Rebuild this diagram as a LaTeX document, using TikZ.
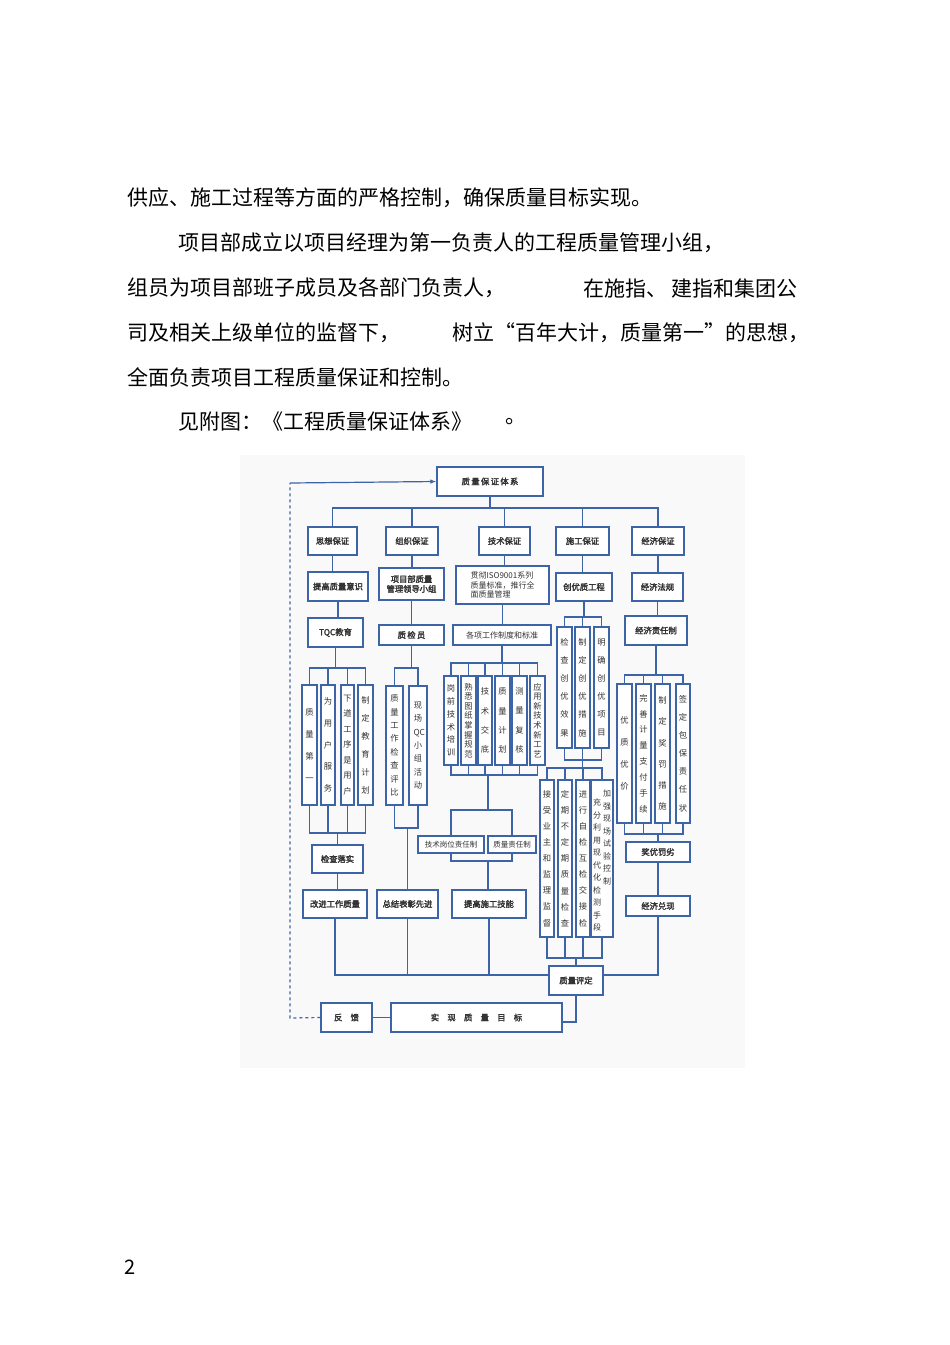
\documentclass[tikz,border=0pt]{standalone}
\usepackage{fontspec}
\usetikzlibrary{arrows.meta}
\newfontfamily\cjk{Noto Sans CJK SC}
\newfontfamily\cjkb[AutoFakeBold=2.5]{Noto Sans CJK SC}
\setmainfont{Noto Sans CJK SC}
\XeTeXlinebreaklocale "zh"
\XeTeXlinebreakskip=0pt plus 1pt
\ExplSyntaxOn
\NewExpandableDocumentCommand\mycount{m}{\tl_count:n{#1}}
\ExplSyntaxOff
\definecolor{bl}{HTML}{3E64A8}
\definecolor{tx}{HTML}{333333}
\tikzset{
 ln/.style={draw=bl,line width=1.2pt},
 hb/.style={draw=bl,line width=1.2pt,fill=white,inner sep=0pt,text=tx,align=center,font=\cjkb\bfseries\fontsize{8.3}{9.8}\selectfont},
 vbx/.style={draw=bl,line width=1.2pt,fill=white,inner sep=0pt,text=tx,text width=9pt,align=center},
 para/.style={anchor=west,inner sep=0pt,font=\cjk\fontsize{21}{21}\selectfont,text=black}
}
\newcommand\bx[6]{\node[hb,minimum width={#4-#2},minimum height={#5-#3}] (#1) at ({(#2+#4)/2},{(#3+#5)/2}) {#6};}
\newcommand\vb[6]{\pgfmathsetmacro\myls{min(22,(#5-#3-12)/\mycount{#6})}%
 \node[vbx,minimum width={#4-#2},minimum height={#5-#3},font=\cjkb\fontsize{8.3}{\myls}\selectfont] (#1) at ({(#2+#4)/2},{(#3+#5)/2}) {#6};}
\begin{document}
\begin{tikzpicture}[x=1pt,y=-1pt]
\useasboundingbox (0,0) rectangle (950,1345);
\fill[white] (0,0) rectangle (950,1345);
\fill[gray!5] (240,455) rectangle (745,1068);
% paragraph
\node[para] (l1) at (127,198) {供应、施工过程等方面的严格控制，确保质量目标实现。};
\node[para] (l2) at (178,243) {项目部成立以项目经理为第一负责人的工程质量管理小组，};
\node[para] (l3a) at (127,288) {组员为项目部班子成员及各部门负责人，};
\node[para] (l3b) at (583,288) {在施指、 建指和集团公};
\node[para] (l4a) at (127,333) {司及相关上级单位的监督下，};
\node[para] (l4b) at (452,333) {树立“百年大计，质量第一”的思想，};
\node[para] (l5) at (127,377) {全面负责项目工程质量保证和控制。};
\node[para] (l6a) at (178,422) {见附图：《工程质量保证体系》};
\node[para] (l6b) at (505,422) {。};
\node[para,font=\fontsize{20}{20}\selectfont] (pg) at (124,1267) {2};
% top
\bx{T}{437}{467}{543}{496}{质\,量\,保\,证\,体\,系}
\bx{a1}{308}{527}{357}{555}{思想保证}
\bx{a2}{386}{527}{438}{555}{组织保证}
\bx{a3}{479}{527}{530}{555}{技术保证}
\bx{a4}{556}{527}{609}{555}{施工保证}
\bx{a5}{632}{527}{684}{555}{经济保证}
\draw[ln] (T.south) -- (490,508);
\draw[ln] (a1.north) |- (490,508) -| (a5.north);
\foreach \n in {a2,a3,a4} \draw[ln] (\n.north) -- (\n.north|-0,508);
\bx{b1}{308}{572}{368}{601}{提高质量意识}
\bx{b2}{379}{568}{444}{600}{项目部质量\\管理领导小组}
\node[hb,minimum width=93,minimum height=38,align=left,font=\cjkb\fontsize{8}{9.5}\selectfont] (b3) at (502.5,585) {贯彻ISO9001系列\\质量标准，推行全\\面质量管理};
\bx{b4}{556}{573}{612}{601}{创优质工程}
\bx{b5}{632}{573}{683}{601}{经济法规}
\foreach \i in {1,...,5} \draw[ln] (a\i.south) -- (a\i.south|-b\i.north);
\bx{c1}{308}{618}{363}{647}{TQC教育}
\bx{c2}{379}{625}{444}{645}{质\,检\,员}
\node[hb,minimum width=98,minimum height=20,font=\cjkb\fontsize{8}{9.5}\selectfont] (c3) at (502,635) {各项工作制度和标准};
\bx{c5}{625}{616}{687}{645}{经济责任制}
\foreach \i in {1,2,3,5} \draw[ln] (b\i.south) -- (b\i.south|-c\i.north);
% column 1
\vb{e1}{302}{685}{317}{805}{质量第一}
\vb{e2}{321}{685}{335}{805}{为用户服务}
\vb{e3}{341}{685}{354}{805}{下道工序是用户}
\vb{e4}{358}{685}{373}{805}{制定教育计划}
\draw[ln] (c1.south) -- (c1.south|-0,668);
\draw[ln] (e1.north) |- (e4.north|-0,668) -- (e4.north);
\draw[ln] (e2.north) -- (e2.north|-0,668) (e3.north) -- (e3.north|-0,668);
\draw[ln] (e1.south) |- (e4.south|-0,833) -- (e4.south);
\draw[ln] (e2.south) -- (e2.south|-0,833) (e3.south) -- (e3.south|-0,833);
\bx{f1}{312}{845}{363}{873}{检查落实}
\bx{g1}{303}{890}{367}{918}{改进工作质量}
\draw[ln] (f1.north) -- (f1.north|-0,833);
\draw[ln] (f1.south) -- (f1.south|-g1.north);
% column 2
\vb{e5}{386}{686}{403}{805}{质量工作检查评比}
\vb{e6}{409}{686}{427}{805}{现场QC小组活动}
\draw[ln] (c2.south) -- (c2.south|-0,668);
\draw[ln] (e5.north) |- (e6.north|-0,668) -- (e6.north);
\draw[ln] (e5.south) |- (e6.south|-0,828) -- (e6.south);
\bx{g2}{377}{890}{438}{918}{总结表彰先进}
\draw[ln] (g2.north) -- (g2.north|-0,828);
% column 3
\vb{h1}{444}{676}{458}{765}{岗前技术培训}
\vb{h2}{461}{676}{476}{765}{熟悉图纸掌握规范}
\vb{h3}{478}{676}{492}{765}{技术交底}
\vb{h4}{495}{676}{510}{765}{质量计划}
\vb{h5}{512}{676}{527}{765}{测量复核}
\vb{h6}{530}{676}{545}{765}{应用新技术新工艺}
\draw[ln] (c3.south) -- (c3.south|-0,663);
\draw[ln] (h1.north) |- (h6.north|-0,663) -- (h6.north);
\draw[ln] (h1.south) |- (h6.south|-0,775) -- (h6.south);
\foreach \n in {h2,h3,h4,h5} {\draw[ln] (\n.north) -- (\n.north|-0,663); \draw[ln] (\n.south) -- (\n.south|-0,775);}
\node[hb,minimum width=66,minimum height=17,font=\cjkb\fontsize{7.5}{9}\selectfont] (k1) at (451,844.5) {技术岗位责任制};
\node[hb,minimum width=48,minimum height=17,font=\cjkb\fontsize{7.5}{9}\selectfont] (k2) at (512,844.5) {质量责任制};
\coordinate (j1) at (488,775);
\draw[ln] (j1) -- (488,810);
\draw[ln] (k1.north) |- (488,810) -| (k2.north);
\bx{g3}{452}{890}{526}{918}{提高施工技能}
\draw[ln] (k1.south) |- (488,861) -| (k2.south);
\draw[ln] (488,861) -- (g3.north-|488,0);
% column 4
\vb{d1}{557}{627}{572}{748}{检查创优效果}
\vb{d2}{575}{627}{590}{748}{制定创优措施}
\vb{d3}{594}{627}{609}{748}{明确创优项目}
\draw[ln] (b4.south) -- (b4.south|-0,617);
\draw[ln] (d1.north) |- (d3.north|-0,617) -- (d3.north);
\draw[ln] (d2.north) -- (d2.north|-0,617);
\draw[ln] (d1.south) |- (d3.south|-0,760) -- (d3.south);
\draw[ln] (d2.south) -- (d2.south|-0,768);
\vb{m1}{540}{780}{554}{937}{接受业主和监理监督}
\vb{m2}{558}{780}{572}{937}{定期不定期质量检查}
\vb{m3}{576}{780}{590}{937}{进行自检互检交接检}
\node[draw=bl,line width=1.2pt,fill=white,minimum width=22,minimum height=157,inner sep=0pt] (m4) at (602,858.5) {};
\node[text width=8pt,align=center,inner sep=0pt,text=tx,font=\cjkb\fontsize{8}{12.5}\selectfont,anchor=north] (m4a) at (607,790) {加强现场试验控制};
\node[text width=8pt,align=center,inner sep=0pt,text=tx,font=\cjkb\fontsize{8}{12.5}\selectfont,anchor=north] (m4b) at (597,799) {充分利用现代化检测手段};
\draw[ln] (m1.north) |- (m4.north|-0,768) -- (m4.north);
\draw[ln] (m2.north) -- (m2.north|-0,768) (m3.north) -- (m3.north|-0,768);
\draw[ln] (m1.south) |- (m4.south|-0,958) -- (m4.south);
\draw[ln] (m2.south) -- (m2.south|-0,958) (m3.south) -- (m3.south|-0,958);
\bx{Q}{549}{966}{603}{995}{质量评定}
\draw[ln] (Q.north) -- (Q.north|-0,958);
% column 5
\vb{n1}{617}{684}{632}{823}{优质优价}
\vb{n2}{636}{684}{651}{823}{完善计量支付手续}
\vb{n3}{655}{684}{670}{823}{制定奖罚措施}
\vb{n4}{676}{684}{690}{823}{签定包保责任状}
\draw[ln] (c5.south) -- (c5.south|-0,675);
\draw[ln] (n1.north) |- (n4.north|-0,675) -- (n4.north);
\draw[ln] (n2.north) -- (n2.north|-0,675) (n3.north) -- (n3.north|-0,675);
\draw[ln] (n1.south) |- (n4.south|-0,834) -- (n4.south);
\draw[ln] (n2.south) -- (n2.south|-0,834) (n3.south) -- (n3.south|-0,834);
\bx{p1}{626}{842}{690}{862}{奖优罚劣}
\bx{p2}{626}{896}{690}{916}{经济兑现}
\draw[ln] (p1.north) -- (p1.north|-0,834);
\draw[ln] (p1.south) -- (p2.north);
\draw[ln] (p2.south) |- (Q.east|-0,975);
% bottom
\draw[ln] (g1.south) |- (Q.west|-0,975);
\draw[ln] (g2.south) -- (g2.south|-0,975);
\draw[ln] (g3.south) -- (g3.south|-0,975);
\bx{R}{391}{1003}{562}{1032}{实\quad 现\quad 质\quad 量\quad 目\quad 标}
\bx{S}{321}{1003}{372}{1032}{反\quad 馈}
\draw[ln] (Q.south) |- (R.east|-0,1022);
\draw[ln] (S.east) -- (R.west);
\coordinate (fb1) at (290,1018);
\coordinate (fb2) at (290,483);
\draw[draw=bl,line width=1.2pt,dashed] (S.west) -- (fb1) -- (fb2);
\draw[draw=bl,line width=1.2pt,-{Latex[length=6pt]}] (fb2) -- (T.west);
\end{tikzpicture}
\end{document}
